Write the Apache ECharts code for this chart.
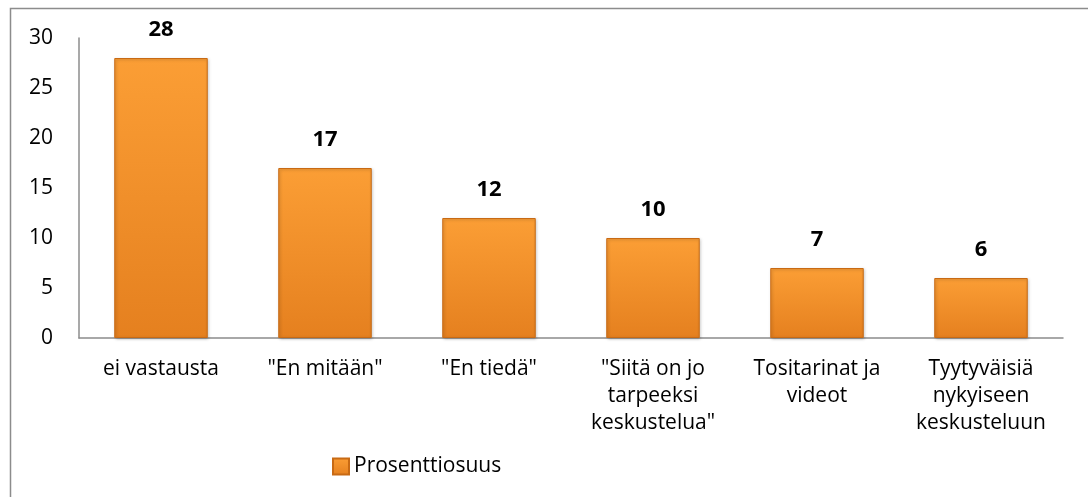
<!DOCTYPE html>
<html>
<head>
<meta charset="utf-8">
<script src="https://cdn.jsdelivr.net/npm/echarts@6/dist/echarts.min.js"></script>
<style>
  html, body { margin: 0; padding: 0; background: #fff; }
  #main { width: 1088px; height: 497px; }
</style>
</head>
<body>
<div id="main"></div>
<script>
var categories = [
  "ei vastausta",
  "\"En mitään\"",
  "\"En tiedä\"",
  "\"Siitä on jo\ntarpeeksi\nkeskustelua\"",
  "Tositarinat ja\nvideot",
  "Tyytyväisiä\nnykyiseen\nkeskusteluun"
];
var values = [28, 17, 12, 10, 7, 6];
var seriesName = "Prosenttiosuus";
var yTicks = [0, 5, 10, 15, 20, 25, 30];

var myChart = echarts.init(document.getElementById("main"));
var font = "'Open Sans', 'Noto Sans', sans-serif";

var barFill = new echarts.graphic.LinearGradient(0, 0, 0, 1, [
  { offset: 0, color: "#fb9e35" },
  { offset: 1, color: "#e5801f" }
]);

var option = {
  animation: false,
  textStyle: { fontFamily: font },
  graphic: [
    {
      // outer frame
      type: "rect",
      shape: { x: 10.5, y: 8.5, width: 1100, height: 520 },
      style: { fill: null, stroke: "#8c8c8c", lineWidth: 1.5 },
      silent: true
    }
  ],
  grid: { left: 79, right: 25, top: 38, bottom: 159 },
  legend: {
    left: 327,
    top: 451,
    icon: "rect",
    itemWidth: 16,
    itemHeight: 16,
    textStyle: { fontSize: 21, color: "#000", fontFamily: font },
    data: [seriesName]
  },
  xAxis: {
    type: "category",
    data: categories,
    axisTick: { show: false },
    axisLine: { lineStyle: { color: "#8c8c8c", width: 1.5 } },
    axisLabel: {
      color: "#000",
      fontSize: 21,
      lineHeight: 27,
      margin: 18,
      interval: 0,
      fontFamily: font
    }
  },
  yAxis: {
    type: "value",
    min: yTicks[0],
    max: yTicks[yTicks.length - 1],
    interval: 5,
    splitLine: { show: false },
    axisTick: { show: false },
    axisLine: { show: true, lineStyle: { color: "#8c8c8c", width: 1.5 } },
    axisLabel: { color: "#000", fontSize: 21, margin: 26, fontFamily: font }
  },
  series: [
    {
      name: seriesName,
      type: "bar",
      barWidth: "57%",
      data: values,
      itemStyle: {
        color: barFill,
        borderColor: "#c86a14",
        borderWidth: 1,
        shadowColor: "rgba(0,0,0,0.25)",
        shadowBlur: 3,
        shadowOffsetX: 1,
        shadowOffsetY: 1
      },
      label: {
        show: true,
        position: "top",
        distance: 17,
        color: "#000",
        fontSize: 22,
        fontWeight: "bold",
        fontFamily: font
      }
    }
  ]
};

myChart.setOption(option);
</script>
</body>
</html>
